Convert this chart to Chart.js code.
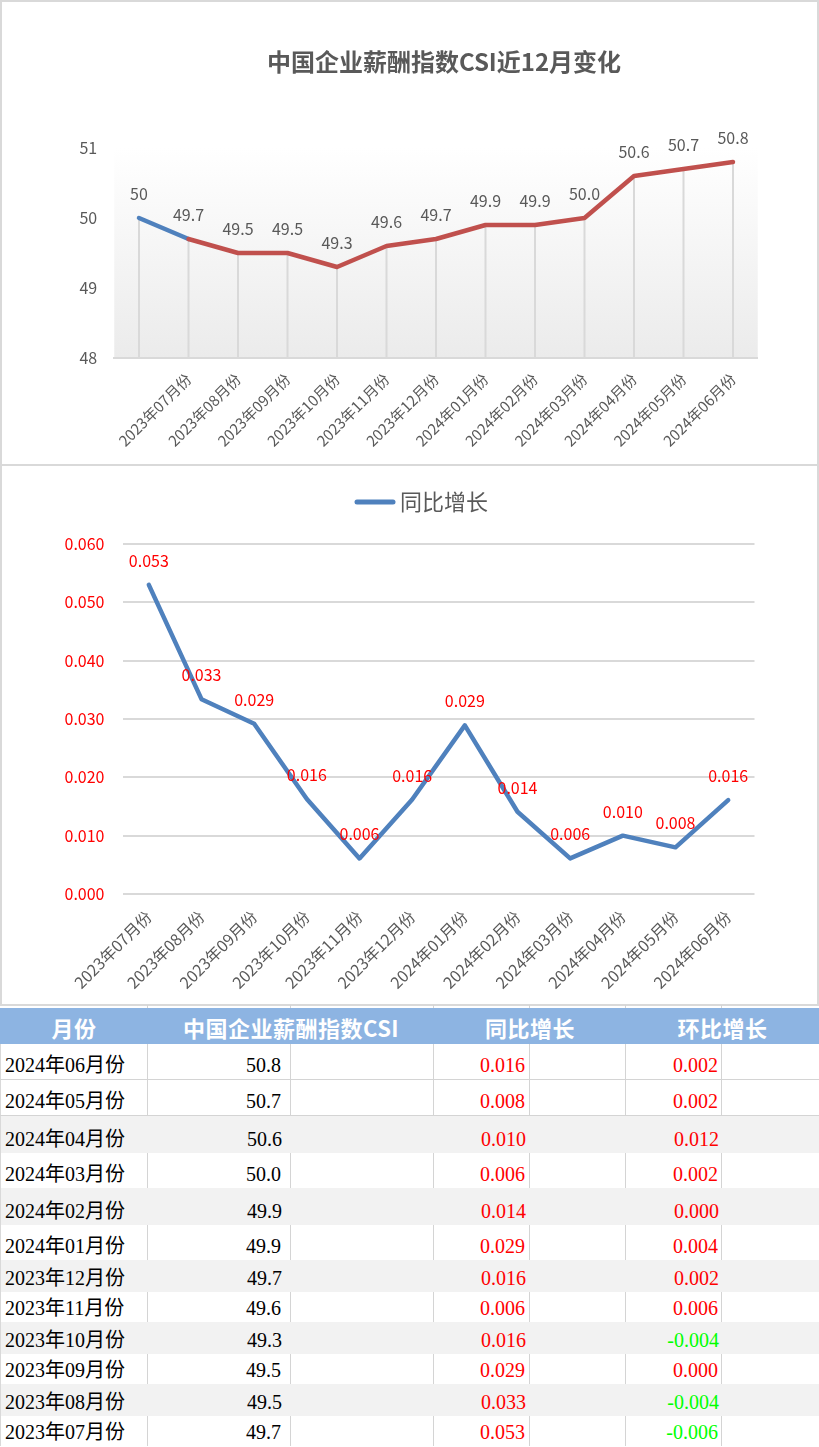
<!DOCTYPE html>
<html>
<head>
<meta charset="utf-8">
<script src="https://cdn.jsdelivr.net/npm/chart.js@4.4.1/dist/chart.umd.min.js"></script>
<style>
html,body{margin:0;padding:0;background:#fff;}
body{width:819px;height:1447px;position:relative;overflow:hidden;}
canvas{position:absolute;left:0;}
#c1{top:0;}
#c2{top:465px;}
.frame{position:absolute;left:0;width:819px;box-sizing:border-box;border:2px solid #d9d9d9;pointer-events:none;}
#tbl{position:absolute;left:0;top:1005px;width:819px;}
.row{display:flex;box-sizing:border-box;}
.cell{box-sizing:border-box;display:flex;align-items:flex-end;overflow:hidden;white-space:nowrap;
  font-family:"Liberation Serif","Noto Sans CJK SC",serif;font-size:20px;line-height:23px;padding-bottom:2px;color:#000;}
.hcell{box-sizing:border-box;display:flex;align-items:center;justify-content:center;white-space:nowrap;
  font-family:"Noto Sans CJK SC","Noto Sans",sans-serif;font-weight:bold;font-size:22px;color:#fff;letter-spacing:0.5px;padding-top:2px;}
</style>
</head>
<body>
<canvas id="c1" width="819" height="465"></canvas>
<canvas id="c2" width="819" height="540"></canvas>
<div class="frame" style="top:0;height:466px;"></div>
<div class="frame" style="top:464px;height:542px;"></div>
<div id="tbl"></div>
<script>
// ---------------- data ----------------
const monthLabels = ['2023年07月份','2023年08月份','2023年09月份','2023年10月份','2023年11月份','2023年12月份',
                     '2024年01月份','2024年02月份','2024年03月份','2024年04月份','2024年05月份','2024年06月份'];
const csiCategories = [''].concat(monthLabels);
const csiValues = [50, 49.7, 49.5, 49.5, 49.3, 49.6, 49.7, 49.9, 49.9, 50.0, 50.6, 50.7, 50.8];
const yoyValues = [0.053, 0.0334, 0.0292, 0.0163, 0.0061, 0.0162, 0.0289, 0.0141, 0.0061, 0.0100, 0.0080, 0.0161];
const momValues = [-0.006, -0.004, 0.000, -0.004, 0.006, 0.002, 0.004, 0.000, 0.002, 0.012, 0.002, 0.002];
const csiTicks = [48, 49, 50, 51];
const yoyTicks = [0, 0.01, 0.02, 0.03, 0.04, 0.05, 0.06];
const chartTitle = '中国企业薪酬指数CSI近12月变化';
const yoyName = '同比增长';
const tableHeaders = ['月份', '中国企业薪酬指数CSI', '同比增长', '环比增长'];

// ---------------- helpers ----------------
const FONT = '"Noto Sans CJK SC", "Noto Sans", sans-serif';
Chart.defaults.font.family = FONT;

function labelPlugin(cfg) {
  return {
    id: 'pointLabels',
    afterDatasetsDraw(chart) {
      const ctx = chart.ctx;
      const meta = chart.getDatasetMeta(0);
      const data = chart.data.datasets[0].data;
      ctx.save();
      ctx.font = cfg.font;
      ctx.fillStyle = cfg.color;
      ctx.textAlign = 'center';
      ctx.textBaseline = 'middle';
      meta.data.forEach((pt, i) => ctx.fillText(cfg.format(data[i], i), pt.x, pt.y - cfg.offset));
      ctx.restore();
    }
  };
}

const plotBackground = {
  id: 'plotBackground',
  beforeDraw(chart) {
    const {ctx, chartArea: a} = chart;
    const g = ctx.createLinearGradient(0, a.top, 0, a.bottom);
    g.addColorStop(0, '#ffffff');
    g.addColorStop(1, '#ebebeb');
    ctx.save();
    ctx.fillStyle = g;
    ctx.fillRect(a.left, a.top, a.right - a.left, a.bottom - a.top);
    ctx.restore();
  }
};

const dropLines = {
  id: 'dropLines',
  beforeDatasetsDraw(chart) {
    const {ctx, chartArea: a} = chart;
    const meta = chart.getDatasetMeta(0);
    ctx.save();
    ctx.strokeStyle = '#d9d9d9';
    ctx.lineWidth = 2;
    meta.data.forEach(pt => {
      ctx.beginPath();
      ctx.moveTo(pt.x, pt.y);
      ctx.lineTo(pt.x, a.bottom);
      ctx.stroke();
    });
    ctx.restore();
  }
};

const lineLegend = {
  id: 'lineLegend',
  afterDraw(chart) {
    const ctx = chart.ctx;
    const ds = chart.data.datasets[0];
    ctx.save();
    ctx.strokeStyle = ds.borderColor;
    ctx.lineWidth = 5;
    ctx.lineCap = 'round';
    ctx.beginPath();
    ctx.moveTo(357, 37);
    ctx.lineTo(393, 37);
    ctx.stroke();
    ctx.font = '22px ' + FONT;
    ctx.fillStyle = '#595959';
    ctx.textAlign = 'left';
    ctx.textBaseline = 'middle';
    ctx.fillText(ds.label, 400, 37);
    ctx.restore();
  }
};

// ---------------- chart 1 ----------------
new Chart(document.getElementById('c1'), {
  type: 'line',
  data: {
    labels: csiCategories,
    datasets: [{
      label: chartTitle,
      data: csiValues,
      borderColor: '#C0504D',
      borderWidth: 4.5,
      borderJoinStyle: 'round',
      borderCapStyle: 'round',
      pointRadius: 0,
      tension: 0,
      fill: false,
      segment: { borderColor: c => c.p0DataIndex === 0 ? '#4F81BD' : '#C0504D' }
    }]
  },
  options: {
    responsive: false, animation: false, devicePixelRatio: 1,
    layout: { padding: { left: 69, right: 0, top: 0, bottom: 0 } },
    plugins: {
      legend: { display: false },
      tooltip: { enabled: false },
      title: {
        display: true, text: chartTitle, color: '#595959',
        font: { size: 24, weight: 'bold', family: FONT },
        padding: { top: 0, bottom: 72.2 }
      }
    },
    scales: {
      x: {
        type: 'category', offset: true,
        grid: { display: false, drawTicks: false },
        border: { display: true, color: '#d9d9d9', width: 2 },
        ticks: { autoSkip: false, minRotation: 45, maxRotation: 45, padding: 12, color: '#595959', font: { size: 15 } },
        afterFit: s => { s.height = 465 - 358; s.paddingRight = 819 - 757.75; s.paddingLeft = 0; }
      },
      y: {
        min: 48, max: 51,
        grid: { display: false, drawTicks: false },
        border: { display: false },
        afterBuildTicks: s => { s.ticks = csiTicks.map(v => ({ value: v })); },
        ticks: { padding: 17, color: '#595959', font: { size: 16 } },
        afterFit: s => { s.width = 114.25 - 69; s.paddingTop = 148; }
      }
    }
  },
  plugins: [plotBackground, dropLines, labelPlugin({
    font: '16px ' + FONT, color: '#595959', offset: 24,
    format: (v, i) => i === 0 ? String(v) : v.toFixed(1)
  })]
});

// ---------------- chart 2 ----------------
new Chart(document.getElementById('c2'), {
  type: 'line',
  data: {
    labels: monthLabels,
    datasets: [{
      label: yoyName,
      data: yoyValues,
      borderColor: '#4F81BD',
      borderWidth: 4.5,
      borderJoinStyle: 'round',
      borderCapStyle: 'round',
      pointRadius: 0,
      tension: 0,
      fill: false
    }]
  },
  options: {
    responsive: false, animation: false, devicePixelRatio: 1,
    layout: { padding: 0 },
    plugins: { legend: { display: false }, tooltip: { enabled: false }, title: { display: false } },
    scales: {
      x: {
        type: 'category', offset: true,
        grid: { display: false, drawTicks: false },
        border: { display: false },
        ticks: { autoSkip: false, minRotation: 45, maxRotation: 45, padding: 13, color: '#595959', font: { size: 16 } },
        afterFit: s => { s.height = 540 - 429; s.paddingRight = 819 - 754.5; s.paddingLeft = 0; }
      },
      y: {
        min: 0, max: 0.06,
        grid: { color: '#d9d9d9', lineWidth: 2, drawTicks: false },
        border: { display: false },
        afterBuildTicks: s => { s.ticks = yoyTicks.map(v => ({ value: v })); },
        ticks: { padding: 18, color: '#FF0000', font: { size: 16 }, callback: v => Number(v).toFixed(3) },
        afterFit: s => { s.width = 122.5; s.paddingTop = 79; }
      }
    }
  },
  plugins: [lineLegend, labelPlugin({
    font: '16px ' + FONT, color: '#FF0000', offset: 24,
    format: v => v.toFixed(3)
  })]
});

// ---------------- table ----------------
const colW = [148, 143, 143, 96, 96, 96, 97];
const rowH = [36, 36, 37, 35, 37, 35, 32, 30, 32, 30, 32, 30];
const tbl = document.getElementById('tbl');

// spacer strip with column borders
(function () {
  const r = document.createElement('div');
  r.className = 'row'; r.style.height = '3px';
  colW.forEach((w, i) => {
    const c = document.createElement('div');
    c.style.width = w + 'px'; c.style.boxSizing = 'border-box';
    if (i < colW.length - 1) c.style.borderRight = '1px solid #d4d4d4';
    r.appendChild(c);
  });
  tbl.appendChild(r);
})();

// header
(function () {
  const r = document.createElement('div');
  r.className = 'row'; r.style.height = '36px'; r.style.background = '#8DB4E2';
  const spans = [colW[0], colW[1] + colW[2], colW[3] + colW[4], colW[5] + colW[6]];
  tableHeaders.forEach((t, i) => {
    const c = document.createElement('div');
    c.className = 'hcell'; c.style.width = spans[i] + 'px'; c.textContent = t;
    r.appendChild(c);
  });
  tbl.appendChild(r);
})();

// body (latest month first)
const n = monthLabels.length;
for (let k = 0; k < n; k++) {
  const idx = n - 1 - k;
  const gray = (k >= 2 && k % 2 === 0);
  const r = document.createElement('div');
  r.className = 'row';
  r.style.height = rowH[k] + 'px';
  r.style.background = gray ? '#f2f2f2' : '#ffffff';
  if (k < 2) r.style.borderBottom = '1px solid #d4d4d4';
  const texts = [monthLabels[idx], csiValues[idx + 1].toFixed(1), '', yoyValues[idx].toFixed(3), '', momValues[idx].toFixed(3), ''];
  const colors = ['#000', '#000', '#000', '#FF0000', '#000', momValues[idx] < 0 ? '#00FF00' : '#FF0000', '#000'];
  const pads = [[4, 0], [0, 9], [0, 0], [0, 4], [0, 0], [0, 3], [0, 0]];
  colW.forEach((w, i) => {
    const c = document.createElement('div');
    c.className = 'cell';
    c.style.width = w + 'px';
    c.style.color = colors[i];
    c.style.justifyContent = i === 0 ? 'flex-start' : 'flex-end';
    c.style.paddingLeft = pads[i][0] + 'px';
    c.style.paddingRight = pads[i][1] + 'px';
    if (!gray && i < colW.length - 1) c.style.borderRight = '1px solid #d4d4d4';
    if (i === 0) c.style.borderLeft = '1px solid #d9d9d9';
    c.textContent = texts[i];
    r.appendChild(c);
  });
  tbl.appendChild(r);
}
</script>
</body>
</html>
